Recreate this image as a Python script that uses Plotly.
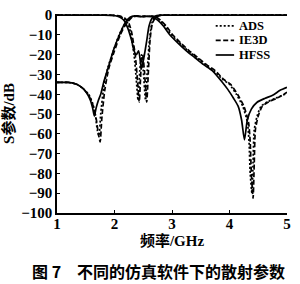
import plotly.graph_objects as go

# ---------------- data ----------------
# S21 curves
f_hfss_s21 = [1.0, 1.2, 1.35, 1.45, 1.52, 1.58, 1.62, 1.65, 1.68, 1.72, 1.76, 1.82, 1.875, 1.99,
              2.1, 2.18, 2.27, 2.35, 2.45, 2.55, 2.65, 2.75, 2.85, 2.95, 3.1, 3.25, 3.4, 3.55,
              3.7, 3.85, 3.97, 4.07, 4.15, 4.21, 4.26, 4.31, 4.38, 4.48, 4.62, 4.75, 4.88, 5.0]
db_hfss_s21 = [-34, -34, -35, -37, -39.5, -43, -47, -51, -47, -43, -40, -33, -28, -17,
               -9, -4, -1, -0.3, -0.8, -0.6, -0.8, -2.5, -5.5, -9.5, -14, -18, -21.5, -25,
               -28, -33, -37.5, -42, -46, -53, -63, -53, -47.5, -44, -42, -40.5, -38, -36.5]

f_ie3d_s21 = [1.0, 1.2, 1.35, 1.45, 1.55, 1.62, 1.68, 1.72, 1.75, 1.78, 1.83, 1.9, 2.0, 2.1,
              2.2, 2.3, 2.4, 2.5, 2.6, 2.7, 2.8, 2.9, 3.0, 3.15, 3.3, 3.45, 3.6, 3.75, 3.9,
              4.02, 4.14, 4.25, 4.33, 4.36, 4.38, 4.41, 4.43, 4.45, 4.5, 4.57, 4.7, 4.82, 5.0]
db_ie3d_s21 = [-34, -34, -35, -37, -40.5, -45, -52, -60, -64, -52, -38, -27, -18, -10,
               -4.5, -1.2, -0.3, -0.6, -0.4, -0.6, -2.5, -5.5, -9.5, -14, -18, -21.5, -25, -28, -32.5,
               -35, -40, -46, -54, -64, -80, -92.5, -75, -58, -51, -46, -43.5, -42, -39]

f_ads_s21 = [1.0, 1.2, 1.35, 1.45, 1.55, 1.62, 1.67, 1.7, 1.73, 1.76, 1.81, 1.88, 1.98, 2.08,
             2.18, 2.28, 2.38, 2.48, 2.58, 2.68, 2.78, 2.88, 2.98, 3.13, 3.28, 3.43, 3.58, 3.73, 3.88,
             4.0, 4.12, 4.23, 4.31, 4.34, 4.36, 4.39, 4.41, 4.43, 4.48, 4.55, 4.68, 4.8, 5.0]
db_ads_s21 = [-34, -34, -35, -37, -40, -44.5, -51, -58, -61, -50, -37, -27, -18, -10,
              -4.5, -1.2, -0.3, -0.6, -0.4, -0.6, -2.5, -5.5, -9.5, -14, -18, -21.5, -25, -28, -32.5,
              -35, -40, -46, -54, -64, -80, -90, -74, -58, -51, -46, -43.5, -42, -39.5]

# S11 curves
f_hfss_s11 = [1.0, 1.8, 1.95, 2.05, 2.12, 2.18, 2.23, 2.27, 2.3, 2.34, 2.38, 2.42, 2.47, 2.52,
              2.56, 2.6, 2.65, 2.7, 2.8, 3.0, 5.0]
db_hfss_s11 = [0, 0, -0.1, -0.5, -1.5, -3.2, -6.5, -10, -13, -18, -20, -18, -27, -20,
               -13, -5.6, -1.7, -0.5, 0, 0, 0]

f_ie3d_s11 = [1.0, 1.9, 2.0, 2.1, 2.18, 2.25, 2.3, 2.36, 2.4, 2.43, 2.46, 2.49, 2.52, 2.56,
              2.59, 2.62, 2.66, 2.72, 2.8, 3.0, 5.0]
db_ie3d_s11 = [0, 0, -0.1, -0.5, -1.5, -4, -9, -20, -33, -44, -28, -20, -28, -44,
               -28, -12, -4, -1, -0.1, 0, 0]

f_ads_s11 = [1.0, 1.88, 1.98, 2.08, 2.16, 2.23, 2.28, 2.34, 2.38, 2.41, 2.44, 2.47, 2.5, 2.54,
             2.57, 2.61, 2.65, 2.7, 2.78, 3.0, 5.0]
db_ads_s11 = [0, 0, -0.1, -0.5, -1.5, -4, -9, -20, -33, -43, -28, -20, -28, -43,
              -28, -12, -4, -1, -0.1, 0, 0]

series_names = ["ADS", "IE3D", "HFSS"]
x_ticks = [1, 2, 3, 4, 5]
y_ticks = [0, -10, -20, -30, -40, -50, -60, -70, -80, -90, -100]

x_title = "频率/GHz"
y_title = "S参数/dB"
caption = "图 7　不同的仿真软件下的散射参数"

# ---------------- figure ----------------
FONT = "Liberation Serif, Times New Roman, Noto Sans CJK SC"
styles = {"ADS": "2px,2px", "IE3D": "5px,2.5px", "HFSS": "solid"}

s21 = {"ADS": (f_ads_s21, db_ads_s21), "IE3D": (f_ie3d_s21, db_ie3d_s21),
       "HFSS": (f_hfss_s21, db_hfss_s21)}
s11 = {"ADS": (f_ads_s11, db_ads_s11), "IE3D": (f_ie3d_s11, db_ie3d_s11),
       "HFSS": (f_hfss_s11, db_hfss_s11)}

fig = go.Figure()
for name in series_names:
    fx, fy = s21[name]
    fig.add_trace(go.Scatter(
        x=fx, y=fy, mode="lines", name=name, showlegend=False,
        line=dict(color="black", width=1.7, dash=styles[name], shape="spline", smoothing=0.6)))
for name in series_names:
    fx, fy = s11[name]
    fig.add_trace(go.Scatter(
        x=fx, y=fy, mode="lines", name=name, showlegend=False,
        line=dict(color="black", width=1.7, dash=styles[name], shape="spline", smoothing=0.6)))

# legend drawn in paper coordinates (compact row spacing as in the original)
shapes = []
annotations = []
legend_rows_y = [0.94, 0.867, 0.794]
for name, ly in zip(series_names, legend_rows_y):
    shapes.append(dict(type="line", xref="paper", yref="paper", x0=0.69, x1=0.77, y0=ly, y1=ly,
                       line=dict(color="black", width=1.7, dash=styles[name])))
    annotations.append(dict(text=name, xref="paper", yref="paper", x=0.785, y=ly,
                            xanchor="left", yanchor="middle", showarrow=False, borderpad=0,
                            font=dict(family=FONT, size=12.5, color="black", weight="bold")))

annotations.append(dict(text="<b>" + caption + "</b>", xref="paper", yref="paper",
                        x=0.44, y=-0.29, xanchor="center", yanchor="middle", showarrow=False,
                        font=dict(family="Noto Sans CJK SC", size=16, color="black")))

fig.update_layout(
    width=300, height=284,
    margin=dict(l=54, r=13, t=7, b=71),
    paper_bgcolor="white", plot_bgcolor="white",
    font=dict(family=FONT, size=14, color="black"),
    showlegend=False,
    shapes=shapes,
    annotations=annotations,
)
fig.update_xaxes(range=[1, 5], tickvals=x_ticks, ticktext=[str(v) for v in x_ticks],
                 tickfont=dict(family=FONT, size=15, weight="bold"),
                 ticklabelstandoff=-4,
                 showline=True, linecolor="black", linewidth=1.5, mirror=False,
                 ticks="inside", ticklen=3, tickcolor="black", showgrid=False, zeroline=False,
                 title=dict(text=x_title, standoff=0,
                            font=dict(family=FONT, size=15, color="black", weight="bold")))
fig.update_yaxes(range=[-100, 0.6], tickvals=y_ticks,
                 ticktext=[("−" + str(-v)) if v < 0 else "0" for v in y_ticks],
                 tickfont=dict(family=FONT, size=15, weight="bold"),
                 showline=True, linecolor="black", linewidth=1.5, mirror=False,
                 ticks="inside", ticklen=3, tickcolor="black", showgrid=False, zeroline=False,
                 title=dict(text=y_title, standoff=4,
                            font=dict(family=FONT, size=15, color="black", weight="bold")))

fig.write_html("out.html")
